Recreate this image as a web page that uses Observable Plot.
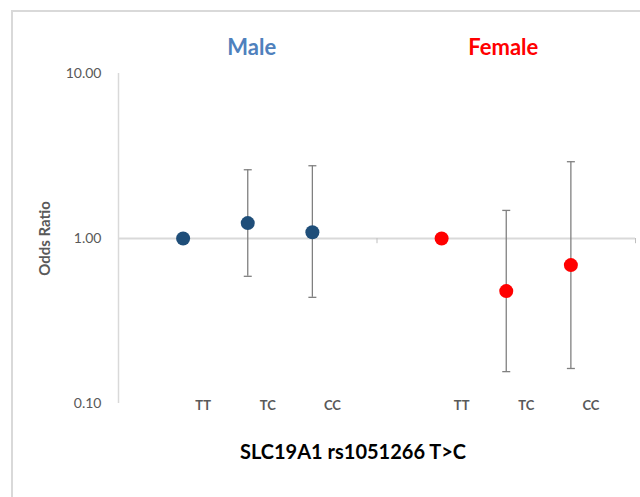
<!DOCTYPE html>
<html>
<head>
<meta charset="utf-8">
<script src="https://cdn.jsdelivr.net/npm/d3@7"></script>
<script src="https://cdn.jsdelivr.net/npm/@observablehq/plot@0.6"></script>
<style>
  html, body { margin: 0; padding: 0; background: #fff; }
  #wrap { position: relative; width: 640px; height: 497px; overflow: hidden; }
  #border { position: absolute; left: 11px; top: 10px; width: 700px; height: 600px;
            border-left: 2px solid #d9d9d9; border-top: 2px solid #d9d9d9; }
  #chart { position: absolute; left: 0; top: 0; }
</style>
</head>
<body>
<div id="wrap"><div id="border"></div><div id="chart"></div></div>
<script>
// Data
const groups = ["Male", "Male", "Male", "Female", "Female", "Female"];
const genotypes = ["TT", "TC", "CC", "TT", "TC", "CC"];
const positions = [1, 2, 3, 5, 6, 7];
const oddsRatio = [1.00, 1.24, 1.09, 1.00, 0.48, 0.69];
const ciLower = [null, 0.59, 0.44, null, 0.156, 0.163];
const ciUpper = [null, 2.61, 2.76, null, 1.48, 2.92];
const groupLabels = ["Male", "Female"];
const groupCenters = [2, 6];
const groupColors = ["#4f81bd", "#ff0000"];
const pointColors = {Male: "#1f4e79", Female: "#ff0000"};
const yTicks = [0.1, 1, 10];
const xTitle = "SLC19A1 rs1051266 T>C";
const yTitle = "Odds Ratio";
const dividerTicks = [4, 8];

const rows = positions.map((p, i) => ({
  x: p, group: groups[i], genotype: genotypes[i],
  or: oddsRatio[i], lo: ciLower[i], hi: ciUpper[i]
}));
const ciRows = rows.filter(d => d.lo != null);
const heads = groupLabels.map((g, i) => ({label: g, x: groupCenters[i], color: groupColors[i]}));

const capSymbol = {
  draw(ctx, size) {
    const r = Math.sqrt(size / Math.PI);
    ctx.moveTo(-r, 0);
    ctx.lineTo(r, 0);
  }
};

const font = "Lato, 'Open Sans', sans-serif";

const chart = Plot.plot({
  width: 640,
  height: 497,
  marginLeft: 118,
  marginRight: 5,
  marginTop: 73,
  marginBottom: 94,
  style: {fontFamily: font, background: "transparent", overflow: "visible"},
  x: {domain: [0, 8], axis: null},
  y: {type: "log", domain: [0.1, 10], ticks: yTicks, tickFormat: ".2f", tickSize: 0, tickPadding: 17, label: null},
  marks: [
    Plot.axisY({ticks: yTicks, tickFormat: ".2f", tickSize: 0, tickPadding: 17, fontSize: 14, fill: "#595959", label: null}),
    Plot.ruleX([0], {stroke: "#d9d9d9", strokeWidth: 1.5}),
    Plot.ruleY([1], {stroke: "#d9d9d9", strokeWidth: 2}),
    Plot.ruleX(dividerTicks, {y1: 1, y2: 0.93, stroke: "#bfbfbf", strokeWidth: 1}),
    Plot.ruleX(ciRows, {x: "x", y1: "lo", y2: "hi", stroke: "#808080", strokeWidth: 1.3}),
    Plot.dot(ciRows, {x: "x", y: "hi", symbol: capSymbol, r: 4, stroke: "#808080", strokeWidth: 1.3}),
    Plot.dot(ciRows, {x: "x", y: "lo", symbol: capSymbol, r: 4, stroke: "#808080", strokeWidth: 1.3}),
    Plot.dot(rows, {x: "x", y: "or", r: 7, fill: d => pointColors[d.group], stroke: "none"}),
    Plot.text(rows, {x: "x", y: () => 0.1, text: "genotype", dx: 20, dy: 2, fontSize: 13, fontWeight: "bold", fill: "#595959"}),
    Plot.text(heads.slice(0, 1), {x: "x", y: () => 10, text: "label", dx: 4, dy: -26, fontSize: 22, fontWeight: "bold", fill: "color"}),
    Plot.text(heads.slice(1), {x: "x", y: () => 10, text: "label", dx: -3, dy: -26, fontSize: 22, fontWeight: "bold", fill: "color"}),
    Plot.text([xTitle], {frameAnchor: "bottom", dx: -24, dy: 55, fontSize: 20, fontWeight: "bold", fill: "#000"}),
    Plot.text([yTitle], {frameAnchor: "left", dx: -73, rotate: -90, textAnchor: "middle", fontSize: 15, fontWeight: "bold", fill: "#595959"})
  ]
});
document.getElementById("chart").appendChild(chart);
</script>
</body>
</html>
